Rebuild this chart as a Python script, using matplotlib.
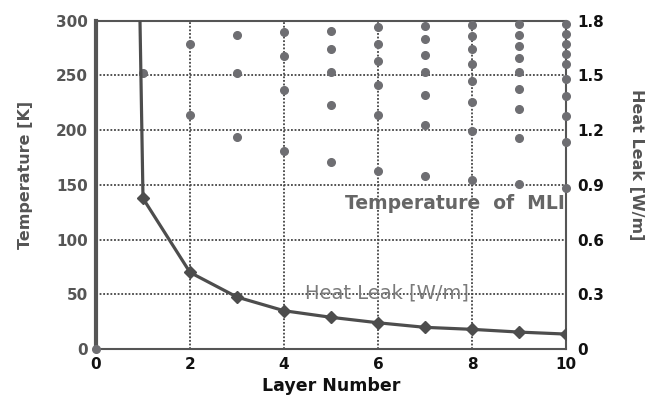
import matplotlib
matplotlib.use('Agg')
import matplotlib.pyplot as plt

# temperature of each MLI layer, grouped by total number of layers
layers = [0, 1, 2, 3, 4, 5, 6, 7, 8, 9, 10]
temp_profiles = [
    [0],
    [252],
    [279, 214],
    [287, 252, 194],
    [290, 268, 237, 181],
    [291, 274, 253, 223, 171],
    [294, 279, 263, 241, 214, 163],
    [295, 283, 269, 253, 232, 205, 158],
    [296, 286, 274, 260, 245, 226, 199, 154],
    [297, 287, 277, 266, 253, 238, 219, 193, 151],
    [297, 288, 279, 270, 260, 247, 231, 213, 189, 147],
]

# heat leak [W/m] vs number of layers
heat_leak = [16.0, 0.826, 0.420, 0.285, 0.210, 0.174, 0.144, 0.119, 0.108, 0.093, 0.082]

gray = '#555555'
dot_gray = '#6e6e72'

fig, ax = plt.subplots(figsize=(6.53, 3.98), dpi=100)
fig.subplots_adjust(left=0.147, right=0.867, top=0.948, bottom=0.123)

for n, temps in zip(layers, temp_profiles):
    ax.plot([n] * len(temps), temps, 'o', color=dot_gray, markersize=5.5,
            linestyle='none', zorder=3, clip_on=False)

ax.set_xlim(0, 10)
ax.set_ylim(0, 300)
ax.set_xticks(range(0, 11, 2))
ax.set_yticks(range(0, 301, 50))
ax.grid(True, color='#444444', linestyle=(0, (1, 1)), linewidth=1.3)
ax.set_axisbelow(True)
for s in ax.spines.values():
    s.set_color(gray)
    s.set_linewidth(1.5)
ax.spines['left'].set_linestyle((0, (1, 1)))
ax.spines['left'].set_linewidth(3)

ax.tick_params(length=0, pad=6)
for lab in ax.get_xticklabels():
    lab.set_fontweight('bold')
    lab.set_fontsize(11)
    lab.set_color('#111111')
for lab in ax.get_yticklabels():
    lab.set_fontweight('bold')
    lab.set_fontsize(11)
    lab.set_color(gray)

ax.set_xlabel('Layer Number', fontsize=12.5, fontweight='bold', color='#111111', labelpad=3)
ax.set_ylabel('Temperature [K]', fontsize=11.5, fontweight='bold', color=gray, labelpad=10)
ax.yaxis.set_label_coords(-0.135, 0.53)

ax2 = ax.twinx()
ax2.plot(layers, heat_leak, '-D', color='#4d4d4d', linewidth=2.3, markersize=6,
         zorder=4)
ax2.set_ylim(0, 1.8)
ax2.set_yticks([0, 0.3, 0.6, 0.9, 1.2, 1.5, 1.8])
ax2.set_yticklabels(['0', '0.3', '0.6', '0.9', '1.2', '1.5', '1.8'])
ax2.tick_params(length=0, pad=8)
for lab in ax2.get_yticklabels():
    lab.set_fontweight('bold')
    lab.set_fontsize(11)
    lab.set_color('#111111')
for s in ax2.spines.values():
    s.set_visible(False)
ax2.set_ylabel('Heat Leak [W/m]', fontsize=11.5, fontweight='bold', color=gray,
               rotation=-90, labelpad=22)
ax2.yaxis.set_label_coords(1.165, 0.56)

ax.text(9.98, 133, 'Temperature  of  MLI', ha='right', va='center',
        fontsize=13.5, fontweight='bold', color='#666666', zorder=5)
ax.text(4.45, 51, 'Heat Leak [W/m]', ha='left', va='center',
        fontsize=14, color='#7a7a7a', zorder=5)

fig.savefig('out.png', dpi=100)
